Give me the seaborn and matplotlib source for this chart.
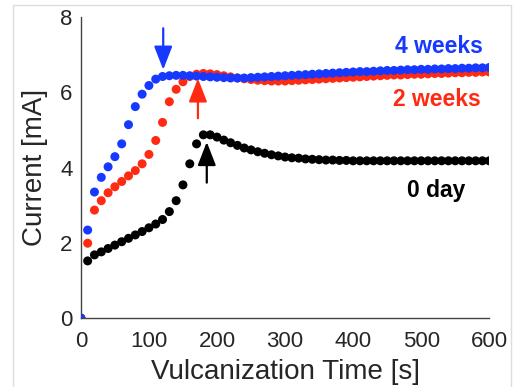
import numpy as np
import pandas as pd
import matplotlib
matplotlib.use('Agg')
import matplotlib.pyplot as plt
from matplotlib.lines import Line2D
import seaborn as sns

sns.set_style("white")
plt.rcParams['font.family'] = ['Liberation Sans', 'DejaVu Sans']

# time axis (s), one sample every 10 s
t = list(range(0, 610, 10))

# current [mA]
i_0day = [0.00, 1.52, 1.68, 1.76, 1.85, 1.94, 2.03, 2.12, 2.21, 2.30,
          2.40, 2.50, 2.62, 2.83, 3.12, 3.54, 4.10, 4.63, 4.87, 4.87,
          4.81, 4.73, 4.66, 4.59, 4.52, 4.47, 4.42, 4.38, 4.34, 4.31,
          4.28, 4.26, 4.25, 4.23, 4.22, 4.21, 4.20, 4.20, 4.19, 4.19,
          4.18, 4.18, 4.18, 4.18, 4.18, 4.18, 4.18, 4.18, 4.18, 4.18,
          4.18, 4.18, 4.18, 4.18, 4.18, 4.18, 4.18, 4.18, 4.18, 4.18,
          4.18]
i_2wk = [0.00, 1.99, 2.87, 3.12, 3.33, 3.49, 3.63, 3.78, 3.92, 4.10,
         4.35, 4.72, 5.20, 5.75, 6.08, 6.28, 6.42, 6.48, 6.50, 6.49,
         6.47, 6.44, 6.41, 6.38, 6.36, 6.34, 6.32, 6.31, 6.30, 6.30,
         6.30, 6.31, 6.32, 6.33, 6.34, 6.35, 6.36, 6.37, 6.38, 6.39,
         6.40, 6.41, 6.42, 6.43, 6.44, 6.45, 6.46, 6.46, 6.47, 6.48,
         6.48, 6.49, 6.50, 6.50, 6.51, 6.52, 6.52, 6.53, 6.53, 6.54,
         6.54]
i_4wk = [0.00, 2.34, 3.35, 3.74, 4.02, 4.29, 4.63, 5.14, 5.62, 5.95,
         6.18, 6.35, 6.42, 6.44, 6.45, 6.45, 6.44, 6.43, 6.42, 6.41,
         6.40, 6.39, 6.38, 6.38, 6.38, 6.39, 6.40, 6.41, 6.42, 6.43,
         6.44, 6.45, 6.46, 6.47, 6.48, 6.49, 6.50, 6.51, 6.52, 6.53,
         6.54, 6.55, 6.55, 6.56, 6.57, 6.58, 6.58, 6.59, 6.60, 6.60,
         6.61, 6.61, 6.62, 6.62, 6.63, 6.63, 6.64, 6.64, 6.65, 6.65,
         6.66]

series = ['0 day', '2 weeks', '4 weeks']
colors = {'0 day': '#000000', '2 weeks': '#ff2a12', '4 weeks': '#1638ff'}

df = pd.DataFrame({
    'time': t * 3,
    'current': i_0day + i_2wk + i_4wk,
    'sample': sum([[s] * len(t) for s in series], []),
})

fig = plt.figure(figsize=(5.15, 3.87), dpi=100)
ax = fig.add_axes([0.157, 0.178, 0.793, 0.778])

sns.scatterplot(data=df, x='time', y='current', hue='sample',
                hue_order=series, palette=colors, s=42, linewidth=0,
                legend=False, ax=ax, zorder=3)

# arrows marking the peaks
arrows = [(121, 7.70, 6.60, '4 weeks'),
          (172, 5.31, 6.37, '2 weeks'),
          (185, 3.60, 4.68, '0 day')]
for x, y0, y1, s in arrows:
    ax.annotate('', xy=(x, y1), xytext=(x, y0),
                arrowprops=dict(arrowstyle='-|>,head_length=0.9,head_width=0.35',
                                color=colors[s], lw=1.6, shrinkA=0, shrinkB=0,
                                mutation_scale=16), zorder=4)

# series labels
ax.text(591, 7.22, '4 weeks', color=colors['4 weeks'], fontsize=16.5,
        fontweight='bold', ha='right', va='center')
ax.text(587, 5.80, '2 weeks', color=colors['2 weeks'], fontsize=16.5,
        fontweight='bold', ha='right', va='center')
ax.text(565, 3.40, '0 day', color=colors['0 day'], fontsize=16.5,
        fontweight='bold', ha='right', va='center')

ax.set_xlim(0, 600)
ax.set_ylim(0, 8)
ax.set_xticks(range(0, 700, 100))
ax.set_yticks([0, 2, 4, 6, 8])
ax.set_xlabel('Vulcanization Time [s]', fontsize=20, labelpad=5)
ax.set_ylabel('Current [mA]', fontsize=20, labelpad=9)
ax.tick_params(direction='in', length=5, width=1, color='#444444',
               labelsize=16)
ax.tick_params(axis='x', pad=9)
ax.tick_params(axis='y', pad=6)
for side in ['top', 'right']:
    ax.spines[side].set_visible(False)
for side in ['left', 'bottom']:
    ax.spines[side].set_color('#444444')
    ax.spines[side].set_linewidth(1)

# light frame around the picture
fx0, fx1, fy1 = 13 / 515, 511 / 515, 1 - 5 / 387
for xs, ys in [([fx0, fx0], [0, fy1]), ([fx0, fx1], [fy1, fy1]), ([fx1, fx1], [0, fy1])]:
    fig.add_artist(Line2D(xs, ys, transform=fig.transFigure, color='#dddddd', lw=1))

plt.savefig('out.png', dpi=100)
plt.close()
